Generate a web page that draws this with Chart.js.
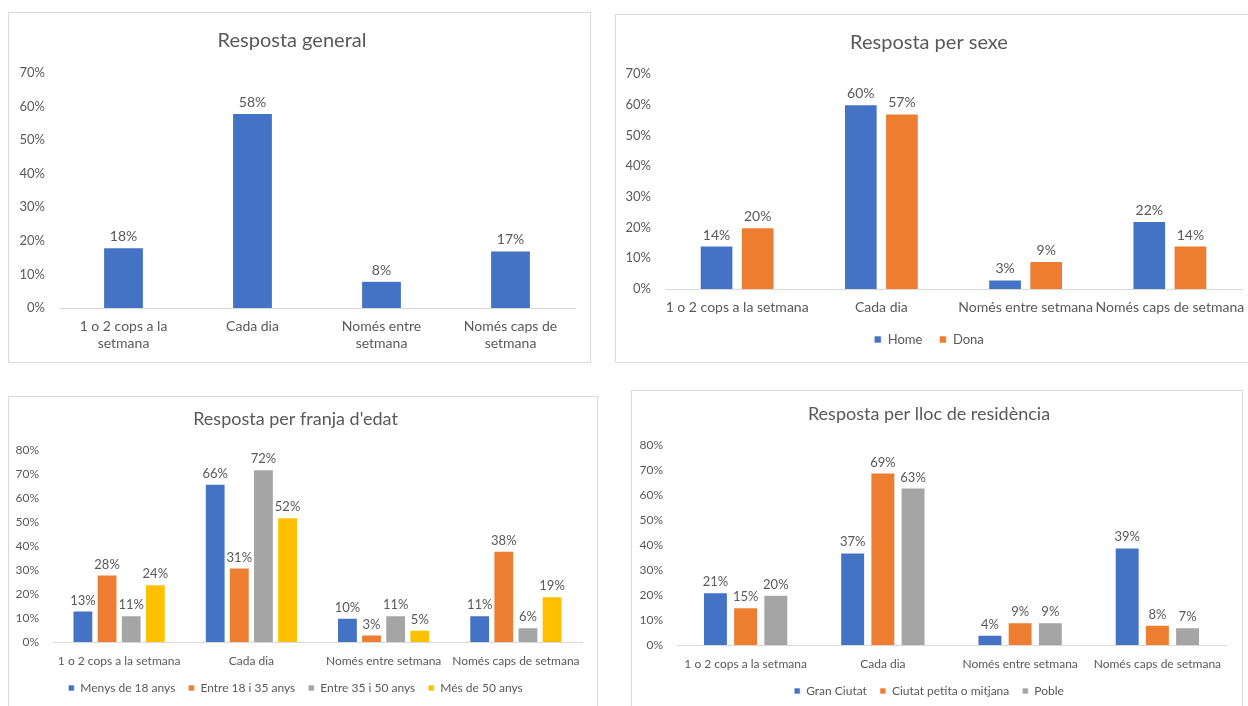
<!DOCTYPE html>
<html>
<head>
<meta charset="utf-8">
<script src="https://cdn.jsdelivr.net/npm/chart.js@4.4.1/dist/chart.umd.min.js"></script>
<style>
  html, body { margin: 0; padding: 0; background: #fff; overflow: hidden; }
  body { width: 1248px; height: 706px; position: relative; }
  .panel { position: absolute; border: 1px solid #d9d9d9; box-sizing: border-box; background: #fff; }
  .panel canvas { position: absolute; left: 0; top: 0; }
</style>
</head>
<body>
<div class="panel" style="left:8px;top:12px;width:583px;height:351px"><canvas id="cGeneral" width="583" height="351"></canvas></div>
<div class="panel" style="left:615px;top:14px;width:660px;height:349px"><canvas id="cSexe" width="660" height="349"></canvas></div>
<div class="panel" style="left:8px;top:396px;width:590px;height:316px"><canvas id="cEdat" width="590" height="316"></canvas></div>
<div class="panel" style="left:631px;top:390px;width:612px;height:320px"><canvas id="cLloc" width="612" height="320"></canvas></div>
<script>
// categories
const categories = ["1 o 2 cops a la setmana", "Cada dia", "Només entre setmana", "Només caps de setmana"];
const categoriesWrapped = [["1 o 2 cops a la", "setmana"], ["Cada dia"], ["Només entre", "setmana"], ["Només caps de", "setmana"]];

// Resposta general
const general = [18, 58, 8, 17];

// Resposta per sexe
const sexeLabels = ["Home", "Dona"];
const home = [14, 60, 3, 22];
const dona = [20, 57, 9, 14];

// Resposta per franja d'edat
const edatLabels = ["Menys de 18 anys", "Entre 18 i 35 anys", "Entre 35 i 50 anys", "Més de 50 anys"];
const menys18 = [13, 66, 10, 11];
const entre18i35 = [28, 31, 3, 38];
const entre35i50 = [11, 72, 11, 6];
const mes50 = [24, 52, 5, 19];

// Resposta per lloc de residència
const llocLabels = ["Gran Ciutat", "Ciutat petita o mitjana", "Poble"];
const granCiutat = [21, 37, 4, 39];
const ciutatPetita = [15, 69, 9, 8];
const poble = [20, 63, 9, 7];

const BLUE = "#4472c4", ORANGE = "#ed7d31", GRAY = "#a5a5a5", YELLOW = "#ffc000";
const TEXT = "#595959";
const FONT = "Lato, 'Open Sans', sans-serif";

// draws the value above each bar
const valueLabels = {
  id: "valueLabels",
  afterDatasetsDraw(chart, args, opts) {
    const ctx = chart.ctx;
    ctx.save();
    ctx.font = opts.size + "px " + FONT;
    ctx.fillStyle = TEXT;
    ctx.textAlign = "center";
    ctx.textBaseline = "bottom";
    chart.data.datasets.forEach((ds, i) => {
      chart.getDatasetMeta(i).data.forEach((bar, j) => {
        ctx.fillText(ds.data[j] + "%", bar.x, bar.y - opts.gap);
      });
    });
    ctx.restore();
  }
};

function makeChart(id, cfg) {
  const datasets = cfg.series.map((s, i) => ({
    label: s.label,
    data: s.data,
    backgroundColor: s.color,
    borderColor: "#ffffff",
    borderWidth: 0.6,
    categoryPercentage: cfg.catPct,
    barPercentage: cfg.barPct
  }));
  return new Chart(document.getElementById(id), {
    type: "bar",
    data: { labels: cfg.labels, datasets },
    plugins: [valueLabels],
    options: {
      responsive: false,
      devicePixelRatio: 1,
      animation: false,
      layout: { padding: cfg.padding },
      plugins: {
        title: {
          display: true,
          text: cfg.title,
          color: TEXT,
          font: { family: FONT, size: cfg.titleSize, weight: "normal" },
          padding: cfg.titlePad
        },
        legend: {
          display: cfg.legend,
          position: "bottom",
          labels: {
            color: TEXT,
            font: { family: FONT, size: cfg.legendSize },
            boxWidth: cfg.legendBox,
            boxHeight: cfg.legendBox,
            padding: cfg.legendGap
          }
        },
        tooltip: { enabled: false },
        valueLabels: { size: cfg.valueSize, gap: 4 }
      },
      scales: {
        x: {
          grid: { display: false, drawTicks: false },
          border: { color: "#d9d9d9", width: 1 },
          ticks: { color: TEXT, font: { family: FONT, size: cfg.tickSize }, padding: cfg.xPad, maxRotation: 0, autoSkip: false },
          afterFit: s => { s.height = cfg.xHeight; }
        },
        y: {
          min: 0,
          max: cfg.yMax,
          grid: { display: false },
          border: { display: false },
          ticks: { stepSize: 10, color: TEXT, font: { family: FONT, size: cfg.yTickSize }, padding: 6, callback: v => v + "%" },
          afterFit: s => { s.width = cfg.yWidth; }
        }
      }
    }
  });
}

makeChart("cGeneral", {
  title: "Resposta general", titleSize: 20, titlePad: { top: 16, bottom: 20 },
  labels: categoriesWrapped,
  series: [{ label: "Resposta", data: general, color: BLUE }],
  catPct: 0.62, barPct: 0.5,
  yMax: 70, yWidth: 50, yTickSize: 13, tickSize: 14, valueSize: 14, xPad: 10, xHeight: 56,
  legend: false, legendSize: 13, legendBox: 8, legendGap: 10,
  padding: { left: 0, right: 17, top: 0, bottom: 0 }
});

makeChart("cSexe", {
  title: "Resposta per sexe", titleSize: 20, titlePad: { top: 16, bottom: 19 },
  labels: categories,
  series: [
    { label: sexeLabels[0], data: home, color: BLUE },
    { label: sexeLabels[1], data: dona, color: ORANGE }
  ],
  catPct: 0.57, barPct: 0.8,
  yMax: 70, yWidth: 49, yTickSize: 13, tickSize: 14, valueSize: 14, xPad: 10, xHeight: 27,
  legend: true, legendSize: 13, legendBox: 7, legendGap: 17,
  padding: { left: 0, right: 34, top: 0, bottom: 8 }
});

makeChart("cEdat", {
  title: "Resposta per franja d'edat", titleSize: 18, titlePad: { top: 11, bottom: 21 },
  labels: categories,
  series: [
    { label: edatLabels[0], data: menys18, color: BLUE },
    { label: edatLabels[1], data: entre18i35, color: ORANGE },
    { label: edatLabels[2], data: entre35i50, color: GRAY },
    { label: edatLabels[3], data: mes50, color: YELLOW }
  ],
  catPct: 0.73, barPct: 0.83,
  yMax: 80, yWidth: 44, yTickSize: 12, tickSize: 12, valueSize: 13, xPad: 12, xHeight: 27,
  legend: true, legendSize: 12, legendBox: 6, legendGap: 13,
  padding: { left: 0, right: 17, top: 0, bottom: 9 }
});

makeChart("cLloc", {
  title: "Resposta per lloc de residència", titleSize: 18, titlePad: { top: 12, bottom: 21 },
  labels: categories,
  series: [
    { label: llocLabels[0], data: granCiutat, color: BLUE },
    { label: llocLabels[1], data: ciutatPetita, color: ORANGE },
    { label: llocLabels[2], data: poble, color: GRAY }
  ],
  catPct: 0.66, barPct: 0.8,
  yMax: 80, yWidth: 45, yTickSize: 12, tickSize: 12, valueSize: 13, xPad: 12, xHeight: 27,
  legend: true, legendSize: 12, legendBox: 6, legendGap: 13,
  padding: { left: 0, right: 18, top: 0, bottom: 4 }
});
</script>
</body>
</html>
